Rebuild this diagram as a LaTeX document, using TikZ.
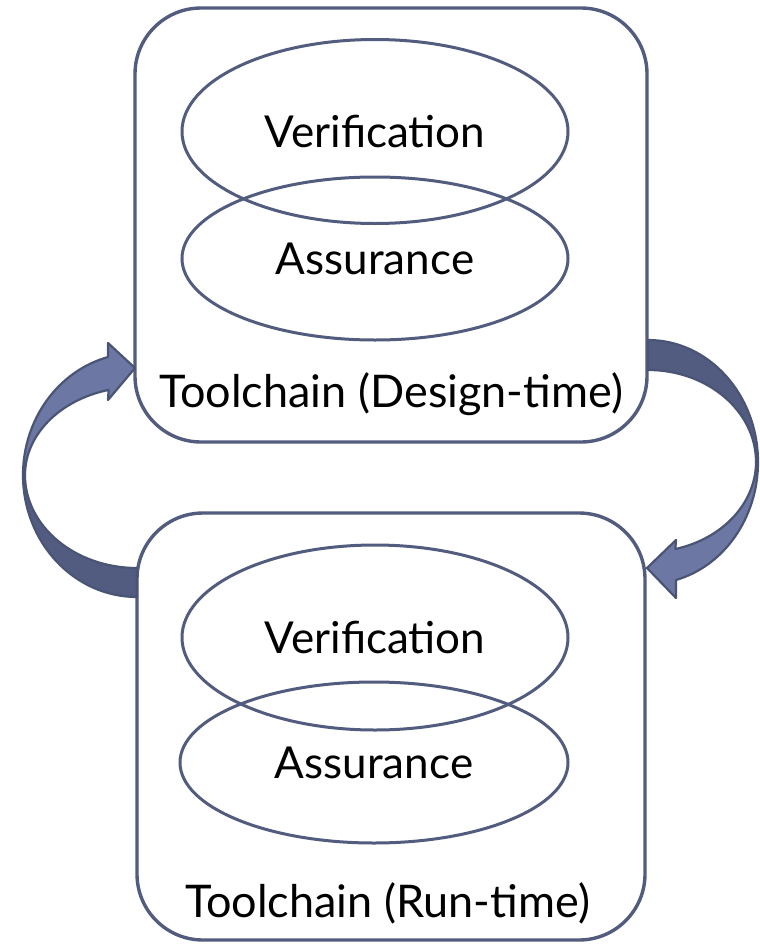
\documentclass[tikz,border=0pt]{standalone}
\usepackage{fontspec}
\setmainfont{Lato}
\usetikzlibrary{shapes.geometric}

\definecolor{rim}{HTML}{525C7E}
\definecolor{arrowlight}{HTML}{6C78A3}
\definecolor{arrowdark}{HTML}{525C80}
\definecolor{arrowrim}{HTML}{4A5474}

\tikzset{
  toolbox/.style={draw=rim, line width=3.4pt, rounded corners=66pt, inner sep=0pt},
  oval/.style={ellipse, draw=rim, line width=3pt, inner sep=0pt,
    font=\fontsize{44}{50}\selectfont, text height=32pt, text depth=0pt},
  caption/.style={anchor=base, inner sep=0pt, font=\fontsize{45}{50}\selectfont},
  bandlight/.style={fill=arrowlight, draw=arrowrim, line width=2.2pt, line join=round},
  banddark/.style={fill=arrowdark, draw=arrowrim, line width=2.2pt, line join=round},
}

\begin{document}
\begin{tikzpicture}[x=1pt, y=-1pt]
  \useasboundingbox (0,0) rectangle (760,945);

  % the two toolchain frames
  \node[toolbox, minimum width=512pt, minimum height=434pt] (design) at (391,225) {};
  \node[toolbox, minimum width=508pt, minimum height=427pt] (run) at (391,726.5) {};

  % design-time contents
  \node[oval, minimum width=386pt, minimum height=184pt] (dver) at (375,131.5) {Verification};
  \node[oval, minimum width=386pt, minimum height=163pt] (dass) at (375,258.5) {Assurance};
  \node[caption] (dcap) at (391,407) {Toolchain (Design-time)};

  % run-time contents
  \node[oval, minimum width=386pt, minimum height=185pt] (rver) at (375,637.5) {Verification};
  \node[oval, minimum width=388pt, minimum height=161pt] (rass) at (374,762.5) {Assurance};
  \node[caption] (rcap) at (387.5,917) {Toolchain (Run-time)};

  % curved arrow from run-time back up to design-time (left side)
  \path[banddark] (23,475) arc[start angle=180, end angle=90, x radius=114, y radius=122]
    -- (137,568) arc[start angle=90, end angle=180, x radius=112, y radius=93] -- cycle;
  \path[bandlight] (23,475) arc[start angle=180, end angle=255.3, x radius=114, y radius=122]
    -- (108,343) -- (135,368) -- (108,400) -- (108.6,389.9)
    arc[start angle=255.3, end angle=180, x radius=112, y radius=88] -- cycle;

  % curved arrow from design-time down to run-time (right side)
  \path[banddark] (648,340) arc[start angle=270, end angle=360, x radius=110, y radius=122]
    -- (756,462) arc[start angle=0, end angle=-90, x radius=108, y radius=92] -- cycle;
  \path[bandlight] (758,462) arc[start angle=0, end angle=75.3, x radius=110, y radius=122]
    -- (676,598) -- (647,568) -- (676,540) -- (675.4,549)
    arc[start angle=75.3, end angle=0, x radius=108, y radius=90] -- cycle;
\end{tikzpicture}
\end{document}
